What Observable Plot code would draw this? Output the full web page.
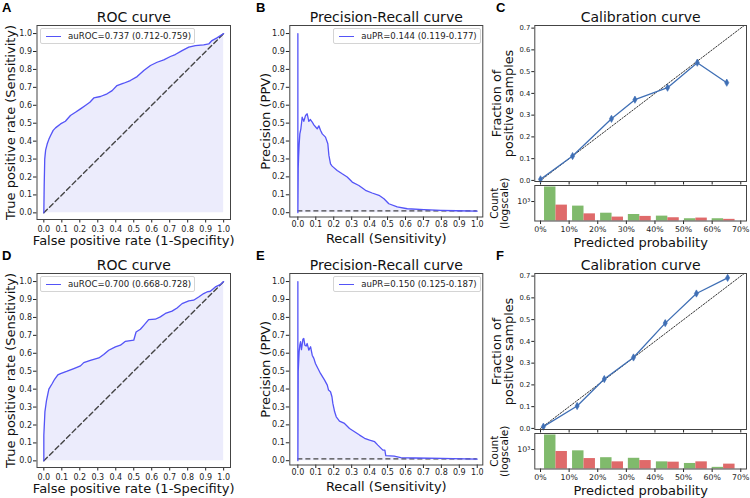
<!DOCTYPE html>
<html><head><meta charset="utf-8">
<script src="https://cdn.jsdelivr.net/npm/d3@7"></script>
<script src="https://cdn.jsdelivr.net/npm/@observablehq/plot@0.6"></script>
<style>
body{margin:0;background:#fff;}
#fig{position:relative;width:750px;height:498px;overflow:hidden;background:#fff;font-family:"DejaVu Sans",sans-serif;}
#fig svg{position:absolute;}
.letter{position:absolute;font-family:"Liberation Sans",Arial,sans-serif;font-weight:bold;font-size:13px;line-height:13px;color:#000;}
.legend{position:absolute;box-sizing:border-box;border:1px solid #d4d4d4;border-radius:2px;background:rgba(255,255,255,0.85);font-family:"DejaVu Sans",sans-serif;font-size:8.6px;color:#222;white-space:nowrap;display:flex;align-items:center;}
.legend .ln{display:inline-block;width:15px;height:0;border-top:1.3px solid #5454f7;margin:0 7px 0 5px;}
</style></head><body><div id="fig"></div>
<script>
// ---------------- data ----------------
const unitTicks = [0, 0.1, 0.2, 0.3, 0.4, 0.5, 0.6, 0.7, 0.8, 0.9, 1.0];
const calTicks = [0, 0.1, 0.2, 0.3, 0.4, 0.5, 0.6, 0.7];
const countTicks = [1000];
const chance = [0, 1];
const recallRange = [0, 1];

const rocA_fpr = [0, 0.002, 0.005, 0.01, 0.019, 0.028, 0.037, 0.052, 0.065, 0.093, 0.12, 0.148, 0.176, 0.204, 0.231, 0.256, 0.278, 0.315, 0.352, 0.38, 0.407, 0.444, 0.481, 0.519, 0.556, 0.593, 0.63, 0.667, 0.704, 0.731, 0.769, 0.806, 0.843, 0.889, 0.917, 0.935, 0.963, 1];
const rocA_tpr = [0, 0.15, 0.3, 0.35, 0.385, 0.41, 0.43, 0.46, 0.474, 0.496, 0.511, 0.543, 0.561, 0.58, 0.599, 0.617, 0.641, 0.649, 0.664, 0.682, 0.71, 0.723, 0.738, 0.76, 0.794, 0.822, 0.84, 0.853, 0.872, 0.883, 0.905, 0.924, 0.933, 0.937, 0.942, 0.961, 0.976, 1];

const rocD_fpr = [0, 0, 0.006, 0.015, 0.028, 0.046, 0.06, 0.078, 0.093, 0.13, 0.167, 0.204, 0.222, 0.259, 0.306, 0.333, 0.361, 0.398, 0.426, 0.454, 0.5, 0.513, 0.537, 0.556, 0.583, 0.62, 0.648, 0.676, 0.713, 0.741, 0.769, 0.806, 0.833, 0.861, 0.889, 0.907, 0.926, 0.954, 0.981, 1];
const rocD_tpr = [0, 0.143, 0.273, 0.338, 0.4, 0.43, 0.455, 0.48, 0.487, 0.5, 0.515, 0.53, 0.548, 0.561, 0.574, 0.593, 0.617, 0.636, 0.645, 0.667, 0.673, 0.719, 0.734, 0.756, 0.788, 0.79, 0.803, 0.822, 0.835, 0.853, 0.877, 0.892, 0.896, 0.914, 0.933, 0.942, 0.946, 0.97, 0.983, 1];

const prB_recall = [0, 0, 0.002, 0.004, 0.007, 0.011, 0.017, 0.024, 0.033, 0.043, 0.052, 0.061, 0.07, 0.08, 0.089, 0.098, 0.108, 0.117, 0.126, 0.136, 0.154, 0.167, 0.173, 0.182, 0.191, 0.219, 0.247, 0.275, 0.303, 0.34, 0.377, 0.414, 0.452, 0.48, 0.507, 0.554, 0.61, 0.703, 0.796, 0.888, 1.0];
const prB_precision = [1, 0, 0.25, 0.31, 0.38, 0.44, 0.47, 0.533, 0.51, 0.543, 0.552, 0.51, 0.52, 0.506, 0.49, 0.48, 0.468, 0.485, 0.46, 0.44, 0.422, 0.385, 0.32, 0.273, 0.26, 0.236, 0.217, 0.199, 0.171, 0.152, 0.125, 0.11, 0.097, 0.078, 0.05, 0.032, 0.022, 0.017, 0.013, 0.011, 0.009];
const prB_baseline = 0.01;

const prE_recall = [0, 0, 0.002, 0.007, 0.011, 0.015, 0.02, 0.028, 0.033, 0.039, 0.046, 0.052, 0.061, 0.071, 0.08, 0.089, 0.098, 0.112, 0.126, 0.149, 0.164, 0.171, 0.182, 0.19, 0.195, 0.205, 0.214, 0.232, 0.26, 0.288, 0.316, 0.344, 0.372, 0.4, 0.428, 0.446, 0.474, 0.485, 0.49, 0.537, 0.574, 0.648, 0.796, 1.0];
const prE_precision = [1, 0, 0.5, 0.608, 0.645, 0.664, 0.62, 0.678, 0.682, 0.645, 0.64, 0.654, 0.617, 0.636, 0.589, 0.571, 0.543, 0.515, 0.487, 0.45, 0.422, 0.394, 0.385, 0.357, 0.32, 0.273, 0.245, 0.221, 0.208, 0.18, 0.162, 0.143, 0.125, 0.115, 0.106, 0.087, 0.059, 0.059, 0.028, 0.026, 0.017, 0.015, 0.013, 0.009];
const prE_baseline = 0.01;

const calC_pred = [0.0, 0.112, 0.248, 0.33, 0.444, 0.548, 0.651];
const calC_frac = [0.005, 0.112, 0.283, 0.371, 0.426, 0.541, 0.449];
const calC_err  = [0.004, 0.009, 0.011, 0.011, 0.011, 0.011, 0.011];
const calF_pred = [0.01, 0.128, 0.223, 0.325, 0.436, 0.545, 0.654];
const calF_frac = [0.008, 0.103, 0.227, 0.326, 0.484, 0.62, 0.692];
const calF_err  = [0.004, 0.009, 0.011, 0.011, 0.011, 0.011, 0.011];

const binCenters = [0.054, 0.152, 0.25, 0.347, 0.445, 0.543, 0.64];
const binHalf = 0.04;
const countC_green = [3162, 697, 398, 359, 316, 257, 257];
const countC_red   = [754, 378, 293, 309, 278, 271, 245];
const countF_green = [3162, 903, 525, 501, 378, 333, 245];
const countF_red   = [858, 490, 378, 419, 369, 378, 316];
const countDomain = [215, 3550];

const legendA = "auROC=0.737 (0.712-0.759)";
const legendB = "auPR=0.144 (0.119-0.177)";
const legendD = "auROC=0.700 (0.668-0.728)";
const legendE = "auPR=0.150 (0.125-0.187)";

// ---------------- style ----------------
const LINE = "#5454f7", FILL = "#ececfc", DASH = "#444", FRAME = "#444", CAL = "#3f6fb5";
const GREEN = "#80ba6c", RED = "#df6a6a";
const CAL_X = [-0.02, 0.72];
const fig = document.getElementById("fig");
const pct = d => `${Math.round(d * 100)}%`;

function place(svg, left, top) {
  svg.style.left = left + "px";
  svg.style.top = top + "px";
  fig.appendChild(svg);
}
function baseStyle(fs) {
  return {fontSize: fs + "px", fontFamily: "DejaVu Sans, sans-serif", color: "#222", background: "transparent", overflow: "visible"};
}

function curvePanel(o) {
  const pts = o.xs.map((x, i) => ({x, y: o.ys[i]}));
  const marks = [Plot.areaY(pts, {x: "x", y: "y", fill: FILL})];
  if (o.baseline == null) {
    marks.push(Plot.line(chance.map(v => ({x: v, y: v})), {x: "x", y: "y", stroke: DASH, strokeWidth: 1.4, strokeDasharray: "5,3"}));
  } else {
    marks.push(Plot.ruleY([o.baseline], {x1: recallRange[0], x2: recallRange[1], stroke: DASH, strokeWidth: 1.4, strokeDasharray: "5,3"}));
  }
  marks.push(
    Plot.line(pts, {x: "x", y: "y", stroke: LINE, strokeWidth: 1.3}),
    Plot.frame({stroke: FRAME}),
    Plot.text([o.title], {text: d => d, frameAnchor: "top", dy: -8, fontSize: 14, lineAnchor: "middle", textAnchor: "middle", fill: "#111"}),
    Plot.text([o.xLabel], {text: d => d, frameAnchor: "bottom", dy: o.xlDy, fontSize: 13, lineAnchor: "middle", textAnchor: "middle", fill: "#111"}),
    Plot.text([o.yLabel], {text: d => d, frameAnchor: "left", dx: o.ylDx, rotate: -90, fontSize: 13, lineAnchor: "middle", textAnchor: "middle", fill: "#111"})
  );
  const svg = Plot.plot({
    width: o.w, height: o.h,
    marginLeft: o.mL, marginRight: o.mR, marginTop: o.mT, marginBottom: o.mB,
    x: {domain: o.xd, ticks: unitTicks, tickFormat: ".1f", tickSize: 3.5, tickPadding: o.xPad, label: null},
    y: {domain: o.yd, ticks: unitTicks, tickFormat: ".1f", tickSize: 3.5, tickPadding: 1.5, label: null},
    style: baseStyle(8),
    marks
  });
  place(svg, o.left, o.top);
}

function legend(text, left, top, w) {
  const d = document.createElement("div");
  d.className = "legend";
  d.style.left = left + "px"; d.style.top = top + "px";
  d.style.width = w + "px"; d.style.height = "16px";
  const ln = document.createElement("span"); ln.className = "ln";
  const tx = document.createElement("span"); tx.textContent = text;
  d.appendChild(ln); d.appendChild(tx);
  fig.appendChild(d);
}

function calPanel(o) {
  const pts = o.pred.map((x, i) => ({x, y: o.frac[i], e: o.err[i]}));
  const main = Plot.plot({
    width: 260, height: 185,
    marginLeft: 44.3, marginRight: 4, marginTop: 25, marginBottom: 4,
    x: {domain: CAL_X, ticks: calTicks, tickFormat: () => "", tickSize: 3.5, label: null},
    y: {domain: [-0.005, 0.712], ticks: calTicks, tickFormat: ".1f", tickSize: 3, tickPadding: 1.5, label: null},
    style: baseStyle(6.8),
    marks: [
      Plot.line(chance.map(v => ({x: v, y: v})), {x: "x", y: "y", stroke: "#333", strokeWidth: 1, strokeDasharray: "1.5,1.6", clip: true}),
      Plot.ruleX(pts, {x: "x", y1: d => d.y - d.e, y2: d => d.y + d.e, stroke: CAL, strokeWidth: 1.2}),
      Plot.line(pts, {x: "x", y: "y", stroke: CAL, strokeWidth: 1.3}),
      Plot.dot(pts, {x: "x", y: "y", symbol: "diamond", r: 2.2, fill: CAL, stroke: CAL, strokeWidth: 0.6}),
      Plot.frame({stroke: FRAME}),
      Plot.text([o.title], {text: d => d, frameAnchor: "top", dy: -8, fontSize: 14, lineAnchor: "middle", textAnchor: "middle", fill: "#111"}),
      Plot.text([o.yLabel], {text: d => d, frameAnchor: "left", dx: -31.5, rotate: -90, fontSize: 12.8, lineHeight: 0.88, lineAnchor: "middle", textAnchor: "middle", fill: "#111"})
    ]
  });
  place(main, o.left, o.top);

  const bars = [];
  binCenters.forEach((c, i) => {
    bars.push({x1: c - binHalf, x2: c, v: o.green[i], k: "g"});
    bars.push({x1: c, x2: c + binHalf, v: o.red[i], k: "r"});
  });
  const cnt = Plot.plot({
    width: 260, height: 65.5,
    marginLeft: 44.3, marginRight: 4, marginTop: 1, marginBottom: 29,
    x: {domain: CAL_X, ticks: calTicks, tickFormat: pct, tickSize: 3.5, tickPadding: 2, label: null},
    y: {type: "log", domain: countDomain, ticks: countTicks, tickFormat: () => "10³", tickSize: 3, tickPadding: 1.5, label: null},
    style: baseStyle(7.8),
    marks: [
      Plot.rect(bars, {x1: "x1", x2: "x2", y1: countDomain[0], y2: "v", fill: d => d.k === "g" ? GREEN : RED}),
      Plot.frame({stroke: FRAME}),
      Plot.text([o.xLabel], {text: d => d, frameAnchor: "bottom", dy: 21.5, fontSize: 13, lineAnchor: "middle", textAnchor: "middle", fill: "#111"}),
      Plot.text([o.cLabel], {text: d => d, frameAnchor: "left", dx: -35, rotate: -90, fontSize: 10.5, lineHeight: 1.0, lineAnchor: "middle", textAnchor: "middle", fill: "#111"})
    ]
  });
  place(cnt, o.left, o.top + 183.5);
}

function letter(t, left, top) {
  const d = document.createElement("div");
  d.className = "letter"; d.textContent = t;
  d.style.left = left + "px"; d.style.top = top + "px";
  fig.appendChild(d);
}

// ---------------- panels ----------------
const rocCfg = {w: 245, h: 249, mL: 36.5, mR: 15, mT: 25, mB: 30, xd: [-0.038, 1.038], yd: [-0.037, 1.045], xPad: 3.5, xlDy: 21, ylDx: -26.5,
  title: "ROC curve", xLabel: "False positive rate (1-Specifity)", yLabel: "True positive rate (Sensitivity)"};
const prCfg = {w: 245, h: 249, mL: 44.3, mR: 7.7, mT: 25, mB: 32.5, xd: [-0.045, 1.031], yd: [-0.024, 1.045], xPad: 1, xlDy: 21.5, ylDx: -24.3,
  title: "Precision-Recall curve", xLabel: "Recall (Sensitivity)", yLabel: "Precision (PPV)"};

curvePanel({...rocCfg, left: 0, top: 0, xs: rocA_fpr, ys: rocA_tpr});
curvePanel({...rocCfg, left: 0, top: 248, xs: rocD_fpr, ys: rocD_tpr});
curvePanel({...prCfg, left: 245, top: 0, xs: prB_recall, ys: prB_precision, baseline: prB_baseline});
curvePanel({...prCfg, left: 245, top: 248, xs: prE_recall, ys: prE_precision, baseline: prE_baseline});

const calCfg = {title: "Calibration curve", yLabel: "Fraction of\npositive samples", xLabel: "Predicted probability", cLabel: "Count\n(logscale)"};
calPanel({...calCfg, left: 490, top: 0, pred: calC_pred, frac: calC_frac, err: calC_err, green: countC_green, red: countC_red});
calPanel({...calCfg, left: 490, top: 248, pred: calF_pred, frac: calF_frac, err: calF_err, green: countF_green, red: countF_red});

legend(legendA, 40, 28.3, 154.5);
legend(legendD, 40, 276.3, 154.5);
legend(legendB, 333.3, 28.3, 147.5);
legend(legendE, 333.3, 276.3, 147.5);

letter("A", 2, 1); letter("B", 256, 1); letter("C", 496, 1);
letter("D", 2, 249); letter("E", 256, 249); letter("F", 496, 249);
</script></body></html>
